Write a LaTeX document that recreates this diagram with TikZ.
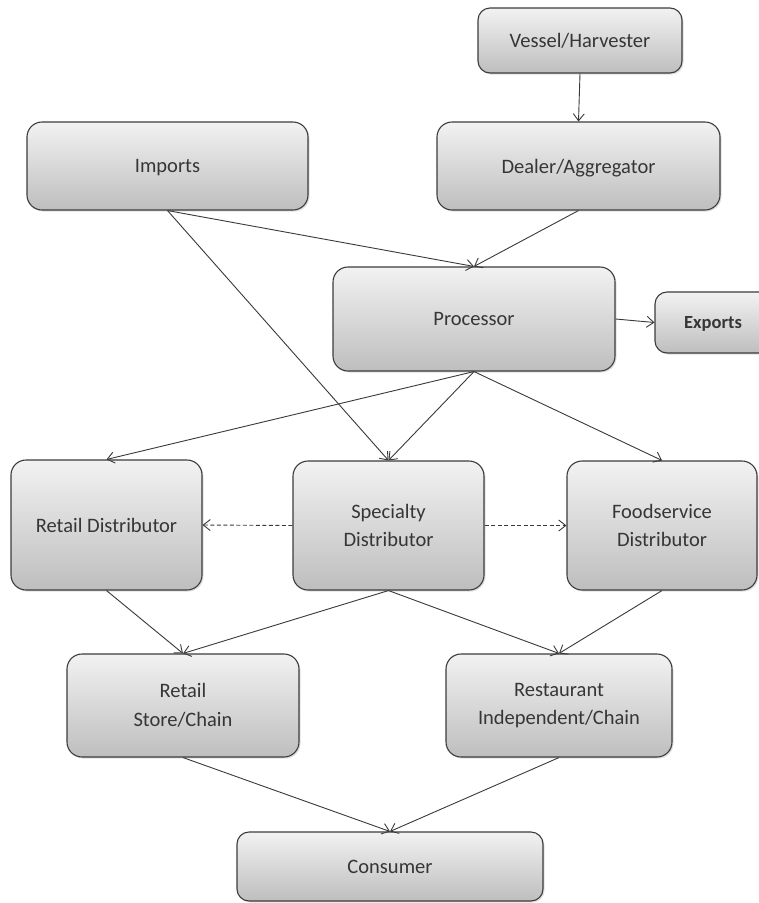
\documentclass[tikz,border=0pt]{standalone}
\usepackage{fontspec}
\setmainfont{Carlito}
\usetikzlibrary{arrows.meta,shadows}
\definecolor{boxline}{HTML}{3C3C3C}
\definecolor{boxtop}{HTML}{F2F2F2}
\definecolor{boxbottom}{HTML}{BEBEBE}
\definecolor{labeltext}{HTML}{363636}
\definecolor{linkcol}{HTML}{3A3A3A}
\tikzset{
  stage/.style={rectangle, rounded corners=15pt, draw=boxline, line width=1.1pt,
    top color=boxtop, bottom color=boxbottom, inner sep=0pt, align=center,
    text=labeltext, font=\fontsize{20.5}{28.5}\selectfont,
    drop shadow={opacity=0.25, shadow xshift=1.5pt, shadow yshift=-1.5pt}},
  oneline/.style={text depth=0pt},
  flow/.style={draw=linkcol, line width=0.9pt, -{Straight Barb[length=7pt,width=11pt]}},
  sideflow/.style={flow, dashed, dash pattern=on 4pt off 2.5pt}
}
\begin{document}
\begin{tikzpicture}[x=1pt, y=-1pt]
  \clip (0,0) rectangle (759,903);
  \fill[white] (0,0) rectangle (759,903);

  % supply side
  \node[stage, oneline, rounded corners=12pt, minimum width=204pt, minimum height=65pt] (vessel) at (580,40.5) {Vessel/Harvester};
  \node[stage, oneline, minimum width=281pt, minimum height=88pt] (imports) at (167.5,166) {Imports};
  \node[stage, oneline, minimum width=283pt, minimum height=88pt] (dealer) at (578.5,166) {Dealer/Aggregator};
  \node[stage, oneline, minimum width=282pt, minimum height=104pt] (processor) at (474,319) {Processor};
  \node[stage, oneline, rounded corners=12pt, minimum width=116pt, minimum height=61pt,
        font=\fontsize{18.5}{22}\selectfont\bfseries] (exports) at (713,322.5) {Exports};

  % distribution
  \node[stage, oneline, minimum width=191pt, minimum height=130pt] (retaild) at (106.5,525) {Retail Distributor};
  \node[stage, minimum width=191pt, minimum height=129pt] (specialty) at (388.5,525.5) {Specialty\\Distributor};
  \node[stage, minimum width=190pt, minimum height=129pt] (foodsvc) at (662,525.5) {Foodservice\\Distributor};

  % outlets and end user
  \node[stage, minimum width=232pt, minimum height=103pt] (store) at (183,705.5) {Retail\\Store/Chain};
  \node[stage, minimum width=226pt, minimum height=103pt] (restaurant) at (559,705.5) {Restaurant\\Independent/Chain};
  \node[stage, oneline, rounded corners=12pt, minimum width=306pt, minimum height=69pt] (consumer) at (390,866.5) {Consumer};

  % product flows
  \draw[flow] (vessel.south) -- (dealer.north);
  \draw[flow] (imports.south) -- (processor.north);
  \draw[flow] (dealer.south) -- (processor.north);
  \draw[flow] (imports.south) -- (specialty.north);
  \draw[flow] (processor.east) -- (exports.west);
  \draw[flow] (processor.south) -- (retaild.north);
  \draw[flow] (processor.south) -- (specialty.north);
  \draw[flow] (processor.south) -- (foodsvc.north);
  \draw[sideflow] (specialty.west) -- (retaild.east);
  \draw[sideflow] (specialty.east) -- (foodsvc.west);
  \draw[flow] (retaild.south) -- (store.north);
  \draw[flow] (specialty.south) -- (store.north);
  \draw[flow] (specialty.south) -- (restaurant.north);
  \draw[flow] (foodsvc.south) -- (restaurant.north);
  \draw[flow] (store.south) -- (consumer.north);
  \draw[flow] (restaurant.south) -- (consumer.north);
\end{tikzpicture}
\end{document}
